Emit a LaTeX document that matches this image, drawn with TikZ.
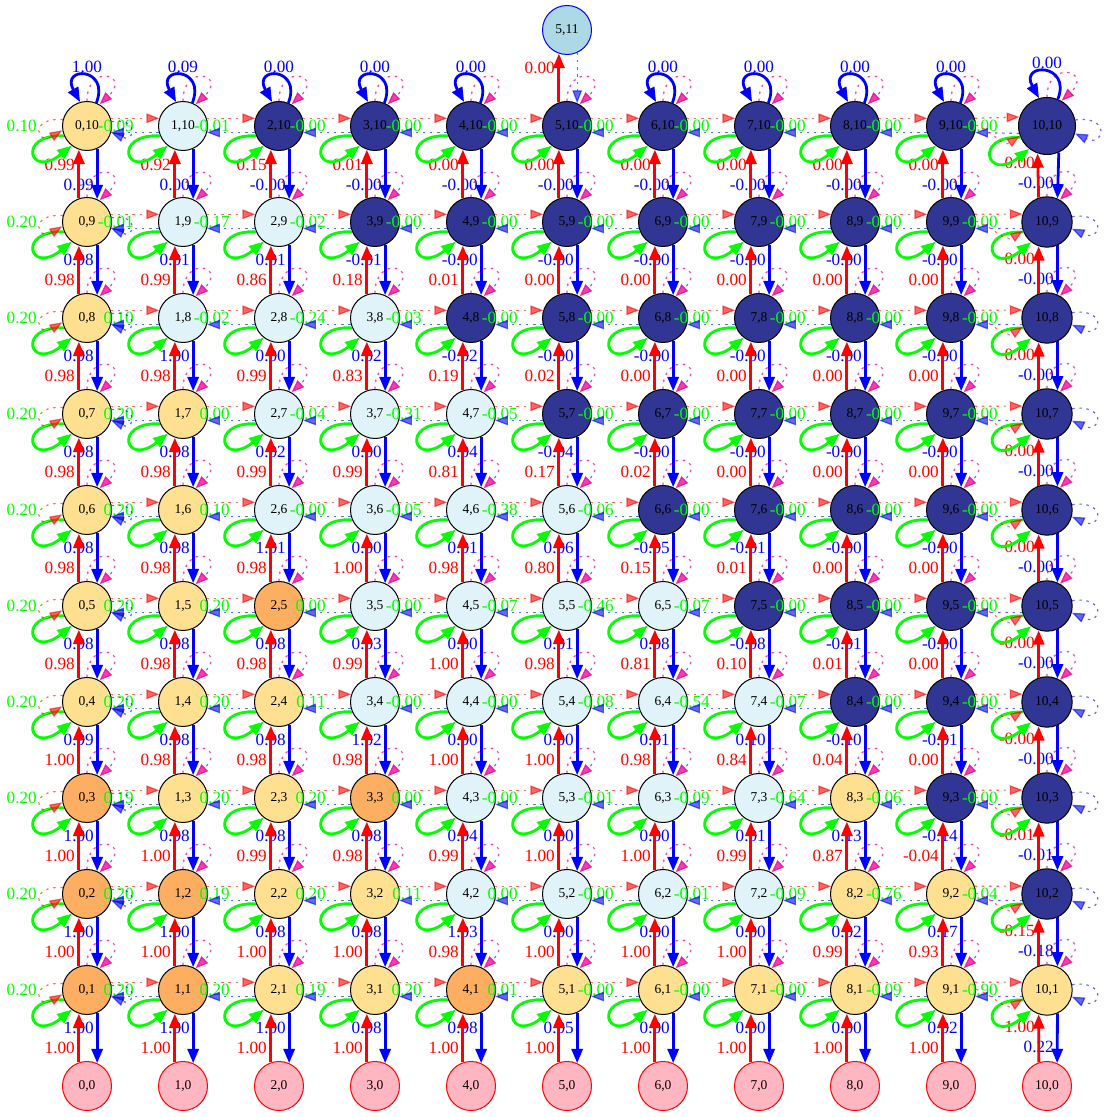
\documentclass[tikz,border=0pt]{standalone}
\usepackage{fontspec}
\setmainfont{Liberation Serif}
\usetikzlibrary{arrows.meta}
\definecolor{cellpale}{HTML}{FEE090}
\definecolor{cellice}{HTML}{E0F3F8}
\definecolor{celldeep}{HTML}{313695}
\definecolor{cellwarm}{HTML}{FDAE61}
\definecolor{sinkpink}{HTML}{FFB6C1}
\definecolor{goalblue}{HTML}{ADD8E6}
\def\griddata{%
0/1/O/1.00/1.00/0.20, 0/2/O/1.00/1.00/0.20, 0/3/O/1.00/1.00/0.19, 0/4/Y/1.00/0.99/0.20, 0/5/Y/0.98/0.98/0.20,
0/6/Y/0.98/0.98/0.20, 0/7/Y/0.98/0.98/0.20, 0/8/Y/0.98/0.98/0.10, 0/9/Y/0.98/0.98/-0.01, 0/10/Y/0.99/0.99/-0.09,
1/1/O/1.00/1.00/0.20, 1/2/O/1.00/1.00/0.19, 1/3/Y/1.00/0.98/0.20, 1/4/Y/0.98/0.98/0.20, 1/5/Y/0.98/0.98/0.20,
1/6/Y/0.98/0.98/0.10, 1/7/Y/0.98/0.98/0.00, 1/8/L/0.98/1.00/-0.02, 1/9/L/0.99/0.01/-0.17, 1/10/L/0.92/0.00/-0.01,
2/1/Y/1.00/1.00/0.19, 2/2/Y/1.00/0.98/0.20, 2/3/Y/0.99/0.98/0.20, 2/4/Y/0.98/0.98/0.11, 2/5/O/0.98/0.98/0.00,
2/6/L/0.98/1.01/-0.00, 2/7/L/0.99/0.02/-0.04, 2/8/L/0.99/0.00/-0.24, 2/9/L/0.86/0.01/-0.02, 2/10/D/0.15/-0.00/-0.00,
3/1/Y/1.00/0.98/0.20, 3/2/Y/1.00/0.98/0.11, 3/3/O/0.98/0.98/0.00, 3/4/L/0.98/1.02/-0.00, 3/5/L/0.99/0.03/-0.00,
3/6/L/1.00/0.00/-0.05, 3/7/L/0.99/0.00/-0.31, 3/8/L/0.83/0.02/-0.03, 3/9/D/0.18/-0.01/-0.00, 3/10/D/0.01/-0.00/-0.00,
4/1/O/1.00/0.98/0.01, 4/2/L/0.98/1.03/0.00, 4/3/L/0.99/0.04/-0.00, 4/4/L/1.00/0.00/-0.00, 4/5/L/1.00/0.00/-0.07,
4/6/L/0.98/0.01/-0.38, 4/7/L/0.81/0.04/-0.05, 4/8/D/0.19/-0.02/-0.00, 4/9/D/0.01/-0.00/-0.00, 4/10/D/0.00/-0.00/-0.00,
5/1/Y/1.00/0.05/-0.00, 5/2/L/1.00/0.00/-0.00, 5/3/L/1.00/0.00/-0.01, 5/4/L/1.00/0.00/-0.08, 5/5/L/0.98/0.01/-0.46,
5/6/L/0.80/0.06/-0.06, 5/7/D/0.17/-0.04/-0.00, 5/8/D/0.02/-0.00/-0.00, 5/9/D/0.00/-0.00/-0.00, 5/10/D/0.00/-0.00/-0.00,
6/1/Y/1.00/0.00/-0.00, 6/2/L/1.00/0.00/-0.01, 6/3/L/1.00/0.00/-0.09, 6/4/L/0.98/0.01/-0.54, 6/5/L/0.81/0.08/-0.07,
6/6/D/0.15/-0.05/-0.00, 6/7/D/0.02/-0.00/-0.00, 6/8/D/0.00/-0.00/-0.00, 6/9/D/0.00/-0.00/-0.00, 6/10/D/0.00/-0.00/-0.00,
7/1/Y/1.00/0.00/-0.00, 7/2/L/1.00/0.00/-0.09, 7/3/L/0.99/0.01/-0.64, 7/4/L/0.84/0.10/-0.07, 7/5/D/0.10/-0.08/-0.00,
7/6/D/0.01/-0.01/-0.00, 7/7/D/0.00/-0.00/-0.00, 7/8/D/0.00/-0.00/-0.00, 7/9/D/0.00/-0.00/-0.00, 7/10/D/0.00/-0.00/-0.00,
8/1/Y/1.00/0.00/-0.09, 8/2/Y/0.99/0.02/-0.76, 8/3/Y/0.87/0.13/-0.06, 8/4/D/0.04/-0.10/-0.00, 8/5/D/0.01/-0.01/-0.00,
8/6/D/0.00/-0.00/-0.00, 8/7/D/0.00/-0.00/-0.00, 8/8/D/0.00/-0.00/-0.00, 8/9/D/0.00/-0.00/-0.00, 8/10/D/0.00/-0.00/-0.00,
9/1/Y/1.00/0.02/-0.90, 9/2/Y/0.93/0.17/-0.04, 9/3/D/-0.04/-0.14/-0.00, 9/4/D/0.00/-0.01/-0.00, 9/5/D/0.00/-0.00/-0.00,
9/6/D/0.00/-0.00/-0.00, 9/7/D/0.00/-0.00/-0.00, 9/8/D/0.00/-0.00/-0.00, 9/9/D/0.00/-0.00/-0.00, 9/10/D/0.00/-0.00/-0.00,
10/1/Y/1.00/0.22/-, 10/2/D/-0.15/-0.18/-, 10/3/D/-0.01/-0.01/-, 10/4/D/-0.00/-0.00/-, 10/5/D/-0.00/-0.00/-,
10/6/D/0.00/-0.00/-, 10/7/D/0.00/-0.00/-, 10/8/D/0.00/-0.00/-, 10/9/D/0.00/-0.00/-, 10/10/D/0.00/-0.00/-}

\begin{document}
\begin{tikzpicture}[x=0.25mm,y=0.25mm,
  cell/.style={circle,draw=black,line width=0.25mm,minimum size=12.25mm,inner sep=0pt,
    font=\fontsize{9.6}{11}\selectfont},
  cellY/.style={cell,fill=cellpale},
  cellL/.style={cell,fill=cellice},
  cellD/.style={cell,fill=celldeep},
  cellO/.style={cell,fill=cellwarm},
  sink/.style={cell,draw=red,fill=sinkpink},
  goal/.style={cell,draw=blue,fill=goalblue},
  upedge/.style={draw=red,line width=0.7mm,-{Triangle[length=3.6mm,width=2.8mm]}},
  downedge/.style={upedge,draw=blue},
  stayloop/.style={upedge,draw=green},
  topself/.style={upedge,draw=blue},
  faint/.style={line width=0.3mm,dash pattern=on 0.6mm off 1.2mm,opacity=0.6,
    -{Triangle[length=3.2mm,width=2.4mm]}},
  rdot/.style={faint,draw=red},
  bdot/.style={faint,draw=blue},
  mdot/.style={faint,draw=magenta,opacity=0.75},
  lab/.style={inner sep=0pt,font=\fontsize{12.2}{14}\selectfont},
  rlab/.style={lab,text=red,anchor=east},
  blab/.style={lab,text=blue,anchor=east},
  glab/.style={lab,text=green,anchor=east}
]
\useasboundingbox (0,0) rectangle (1106,1117);

\foreach \col in {0,...,10}
  \node[sink] (n\col-0) at (87+96*\col,31) {\col,0};
\foreach \col/\row/\f/\rv/\bv/\gv in \griddata {
  \pgfmathsetmacro\dia{\col==10 ? (\row==10 ? 14.25 : 12.6) : 12.25}
  \node[cell\f,minimum size=\dia mm] (n\col-\row) at (87+96*\col,31+96*\row) {\col,\row};
}
\node[goal] (n5-11) at (567,1087) {5,11};

\foreach \col/\row/\f/\rv/\bv/\gv in \griddata {
  \ifnum\col=10 \def\rdy{-37}\def\bdy{-57}\else
    \ifnum\row=10 \def\rdy{-39}\def\bdy{-59}\else\def\rdy{-58}\def\bdy{-38}\fi\fi
  \node[rlab] (r\col-\row) at ([shift={(-12,\rdy)}]n\col-\row) {\rv};
  \node[blab] (b\col-\row) at ([shift={(7,\bdy)}]n\col-\row) {\bv};
  \ifnum\col<10 \node[glab] (g\col-\row) at ([shift={(47,0)}]n\col-\row) {\gv};\fi
}
\foreach \row/\v in {1/0.20,2/0.20,3/0.20,4/0.20,5/0.20,6/0.20,7/0.20,8/0.20,9/0.20,10/0.10}
  \node[glab] (w\row) at ([shift={(-50,0)}]n0-\row) {\v};
\node[rlab] (r5-11) at ([shift={(-12,-38)}]n5-11) {0.00};

\foreach \col/\row/\f/\rv/\bv/\gv in \griddata {
  \pgfmathtruncatemacro\prevrow{\row-1}
  \pgfmathtruncatemacro\prevcol{\col-1}
  \pgfmathtruncatemacro\nextcol{\col+1}
  \draw[upedge] (n\col-\prevrow.109) -- (n\col-\row.251);
  \draw[downedge] (n\col-\row.-66) -- (n\col-\prevrow.66);
  \draw[stayloop] (n\col-\row.203) .. controls +(-48,2) and +(-42,-34) .. (n\col-\row.232);
  \draw[mdot] (n\col-\row.90) .. controls +(0,38) and +(32,30) .. (n\col-\row.60);
  \ifnum\col>0 \draw[rdot] (n\prevcol-\row.18) -- (n\col-\row.162);\fi
  \ifnum\col<10 \draw[bdot] (n\nextcol-\row.195) -- (n\col-\row.-15);\fi
  \ifnum\col=0
    \draw[rdot] (n0-\row.165) .. controls +(-35,2) and +(-25,-15) .. (n0-\row.190);
    \draw[bdot] (n0-\row.10) .. controls +(28,4) and +(24,-10) .. (n0-\row.-15);
  \fi
  \ifnum\col=10
    \draw[rdot] (n9-\row.2) .. controls +(18,-6) and +(-18,-12) .. (n10-\row.200);
    \draw[bdot] (n10-\row.12) .. controls +(35,5) and +(30,-14) .. (n10-\row.-15);
  \fi
}

\foreach \col/\v in {0/1.00,1/0.09,2/0.00,3/0.00,4/0.00,6/0.00,7/0.00,8/0.00,9/0.00,10/0.00} {
  \pgfmathsetmacro\tdy{\col==10 ? 63 : 59}
  \draw[topself] (n\col-10.68) .. controls +(14,36) and +(-20,36) .. (n\col-10.106);
  \node[lab,text=blue] (t\col) at ([shift={(0,\tdy)}]n\col-10) {\v};
}
\draw[upedge] (n5-10.109) -- (n5-11.251);
\draw[bdot] (n5-11.-66) -- (n5-10.66);
\end{tikzpicture}
\end{document}
